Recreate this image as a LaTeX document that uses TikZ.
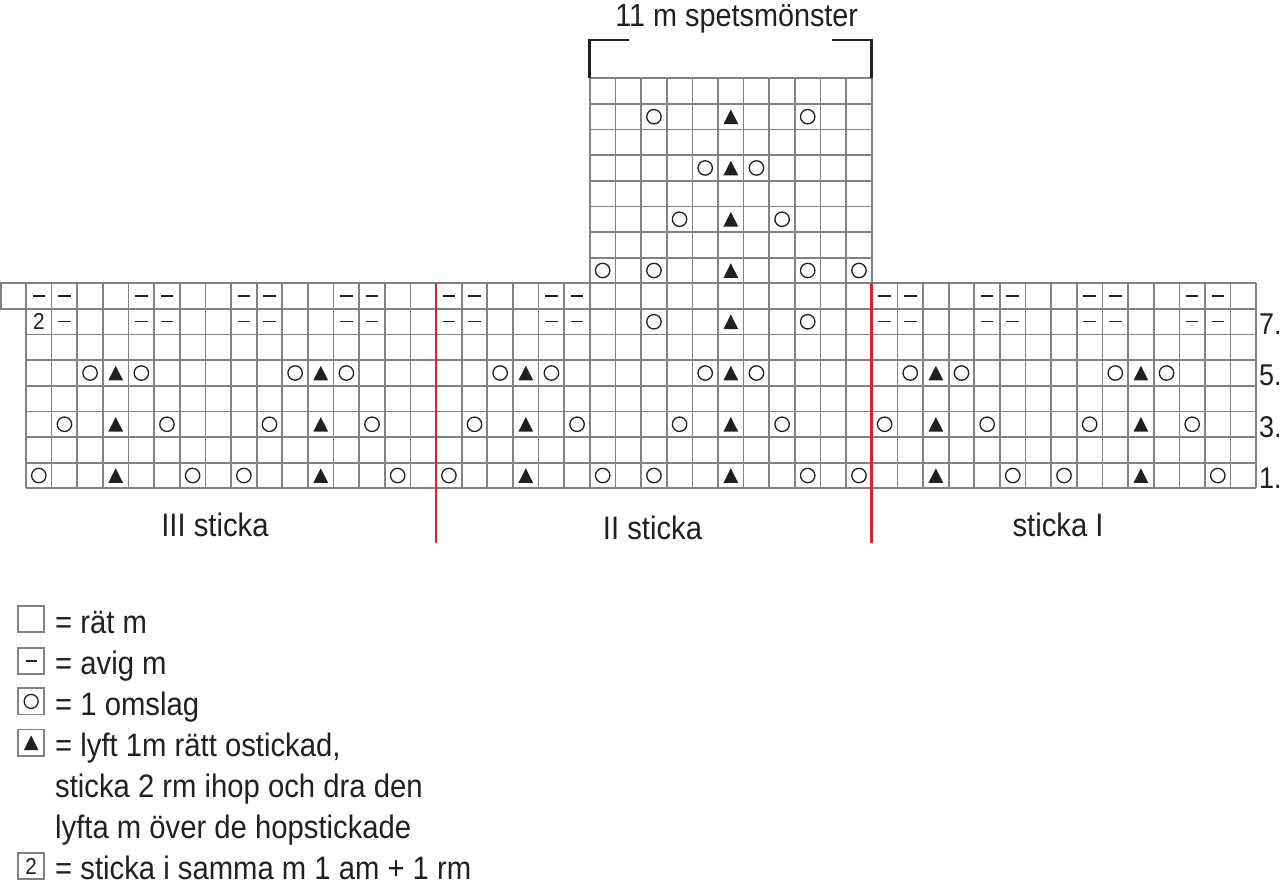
\documentclass[tikz,border=0pt]{standalone}
\usepackage{fontspec}
\setmainfont{Liberation Sans}[FakeStretch=0.9]
\definecolor{gridgray}{RGB}{130,130,130}
\definecolor{chartred}{RGB}{220,35,45}
\definecolor{ink}{RGB}{35,31,32}
\newcommand\cellX[1]{26+(#1+0.5)*25.63}
\newcommand\cellY[1]{283.3+(#1+0.5)*25.63}
\newcommand\yoAt[2]{\draw[yarnover] ({\cellX{#1}},{\cellY{#2}}) circle[radius=7.2pt];}
\newcommand\triAt[2]{\fill[dectri] ({\cellX{#1}},{\cellY{#2}}) ++(0,-7.2) -- ++(7.4,14.6) -- ++(-14.8,0) -- cycle;}
\newcommand\purlAt[2]{\draw[purl] ({\cellX{#1}},{\cellY{#2}}) ++(-6.3,0) -- ++(12.6,0);}
\begin{document}
\begin{tikzpicture}[x=1pt,y=-1pt,
  gridline/.style={draw=gridgray,line width=1.7pt,line cap=square},
  redline/.style={draw=chartred,line width=2.7pt},
  bracketline/.style={draw=ink,line width=2.8pt},
  yarnover/.style={draw=ink,line width=1.3pt},
  dectri/.style={fill=ink},
  purl/.style={draw=ink,line width=1.5pt},
  lbl/.style={font=\fontsize{32.5}{39}\selectfont,text=ink,inner sep=0pt},
  rownum/.style={font=\fontsize{30}{36}\selectfont,text=ink,inner sep=0pt,anchor=base west},
  cellnum/.style={font=\fontsize{23}{26}\selectfont,text=ink,inner sep=0pt},
]
\useasboundingbox (0,0) rectangle (1280,881);

% ---- main grid (48 x 8) ----
\foreach \r in {0,...,8} \draw[gridline] (26,{283.3+\r*25.63}) -- ({26+48*25.63},{283.3+\r*25.63});
\foreach \c in {0,...,48} \draw[gridline] ({26+\c*25.63},283.3) -- ({26+\c*25.63},{283.3+8*25.63});
% extra cell top left
\draw[gridline] (1,283.3) rectangle (26,{283.3+25.63});
% ---- upper grid (11 x 8) ----
\foreach \r in {-8,...,-1} \draw[gridline] ({26+22*25.63},{283.3+\r*25.63}) -- ({26+33*25.63},{283.3+\r*25.63});
\foreach \c in {22,...,33} \draw[gridline] ({26+\c*25.63},{283.3-8*25.63}) -- ({26+\c*25.63},283.3);

% ---- symbols main grid ----
\foreach \t in {3,11,19,27,35,43} {
  \triAt{\t}{3}\triAt{\t}{5}\triAt{\t}{7}
  \yoAt{\t-1}{3}\yoAt{\t+1}{3}
  \yoAt{\t-2}{5}\yoAt{\t+2}{5}
  \yoAt{\t-3}{7}\yoAt{\t+3}{7}
}
\triAt{27}{1}\yoAt{24}{1}\yoAt{30}{1}
\foreach \c in {0,1,4,5,8,9,12,13,16,17,20,21,33,34,37,38,41,42,45,46} {\purlAt{\c}{0}}
\foreach \c in {1,4,5,8,9,12,13,16,17,20,21,33,34,37,38,41,42,45,46} {\purlAt{\c}{1}}
\node[cellnum] (two) at ({\cellX{0}},{\cellY{1}}) {2};

% ---- symbols upper grid ----
\triAt{27}{-7}\yoAt{24}{-7}\yoAt{30}{-7}
\triAt{27}{-5}\yoAt{26}{-5}\yoAt{28}{-5}
\triAt{27}{-3}\yoAt{25}{-3}\yoAt{29}{-3}
\triAt{27}{-1}\yoAt{22}{-1}\yoAt{24}{-1}\yoAt{30}{-1}\yoAt{32}{-1}

% ---- red dividers ----
\coordinate (redAtop) at ({26+16*25.63},283.3);
\coordinate (redAbot) at ({26+16*25.63},543);
\coordinate (redBtop) at ({26+33*25.63},283.3);
\coordinate (redBbot) at ({26+33*25.63},543);
\draw[redline] (redAtop) -- (redAbot);
\draw[redline] (redBtop) -- (redBbot);

% ---- bracket ----
\coordinate (brL0) at (629,40);
\coordinate (brL1) at ({26+22*25.63},40);
\coordinate (brL2) at ({26+22*25.63},{283.3-8*25.63});
\coordinate (brR0) at (832,40);
\coordinate (brR1) at ({26+33*25.63},40);
\coordinate (brR2) at ({26+33*25.63},{283.3-8*25.63});
\draw[bracketline] (brL0) -- (brL1) -- (brL2);
\draw[bracketline] (brR0) -- (brR1) -- (brR2);

% ---- texts ----
\node[lbl,font=\fontsize{32}{38}\selectfont,anchor=base] (title) at (736.7,26) {11 m spetsmönster};
\node[lbl,anchor=base] (labIII) at (215,536.7) {III sticka};
\node[lbl,anchor=base] (labII) at (652.5,539) {II sticka};
\node[lbl,anchor=base] (labI) at (1058,536.7) {sticka I};
\node[rownum] (n7) at (1259,334.6) {7.};
\node[rownum] (n5) at (1259,385.9) {5.};
\node[rownum] (n3) at (1259,437.1) {3.};
\node[rownum] (n1) at (1259,488.3) {1.};

% ---- legend ----
\draw[gridline] (18,606) rectangle (44.3,632.3);
\draw[gridline] (18,647.7) rectangle (44.3,674);
\draw[purl] (25.6,660.9) -- (36.7,660.9);
\draw[gridline] (18,688.2) rectangle (44.3,714.5);
\draw[yarnover] (31.15,701.4) circle[radius=7pt];
\draw[gridline] (18,729.4) rectangle (44.3,755.7);
\fill[dectri] (31.15,735.5) -- (38.4,750) -- (23.9,750) -- cycle;
\draw[gridline] (18,853) rectangle (44.3,879.3);
\node[cellnum] (legtwo) at (31.15,866.2) {2};

\node[lbl,anchor=base west] (leg1) at (55,633) {= rät m};
\node[lbl,anchor=base west] (leg2) at (55,674) {= avig m};
\node[lbl,anchor=base west] (leg3) at (55,715) {= 1 omslag};
\node[lbl,anchor=base west] (leg4a) at (55,756.5) {= lyft 1m rätt ostickad,};
\node[lbl,anchor=base west] (leg4b) at (55,797.5) {sticka 2 rm ihop och dra den};
\node[lbl,anchor=base west] (leg4c) at (55,838.5) {lyfta m över de hopstickade};
\node[lbl,anchor=base west] (leg5) at (55,879) {= sticka i samma m 1 am + 1 rm};
\end{tikzpicture}
\end{document}
